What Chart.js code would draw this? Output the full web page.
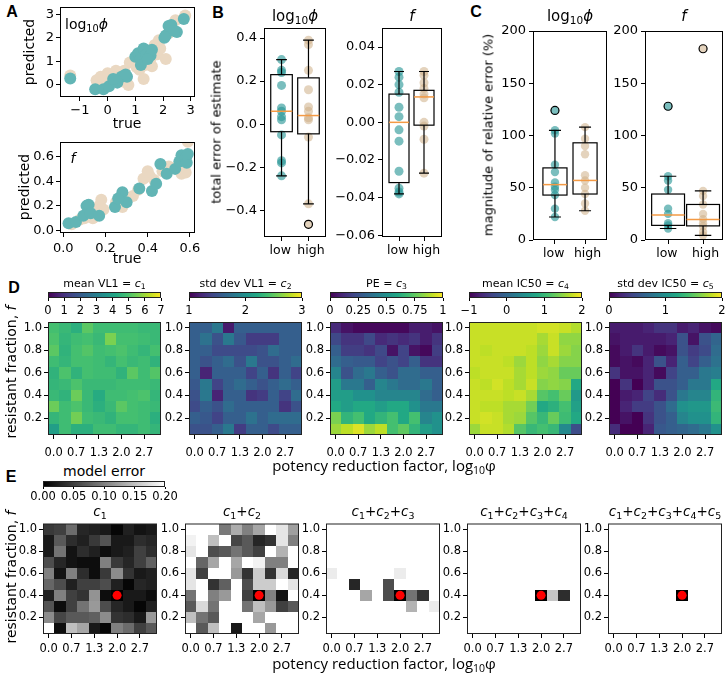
<!DOCTYPE html>
<html><head><meta charset="utf-8">
<script src="https://cdn.jsdelivr.net/npm/chart.js@4/dist/chart.umd.min.js"></script>
<style>
body{margin:0;background:#fff}
#fig{position:relative;width:727px;height:674px;overflow:hidden;background:#fff;font-family:'DejaVu Sans',sans-serif;color:#000}
canvas{position:absolute}
.t{position:absolute;white-space:nowrap;transform:translate(-50%,-50%);line-height:1}
.tl{transform:translate(0,-50%)}
.r{transform:translate(-50%,-50%) rotate(-90deg)}
.L{font-family:'Liberation Sans',Arial,sans-serif;font-weight:bold}
.os{font-family:'Open Sans',sans-serif}
sub{font-size:70%;vertical-align:-0.3em;line-height:0}
</style></head><body><div id="fig"></div>
<script>
// ================= DATA =================
// Panel A: [true, predicted]
const A_PHI_TEAL = [[-1.35,0.28],[-0.45,-0.18],[-0.15,-0.18],[0.05,-0.05],[0.35,0.1],[0.5,0.35],[0.7,0.35],[0.65,0.45],[1.0,1.2],[1.1,1.35],[1.2,1.1],[1.3,1.55],[1.4,1.3],[1.55,1.25],[1.6,1.5],[1.2,0.85],[2.05,2.0],[2.1,2.1],[2.2,2.5],[2.3,2.55],[2.5,2.25],[2.75,2.8],[0.2,0.25],[1.45,1.1],[2.4,2.3]];
const A_PHI_BEIGE = [[-1.35,0.4],[-0.4,0.2],[-0.25,0.35],[-0.05,0.1],[0.0,0.5],[0.15,0.3],[0.3,0.6],[0.4,0.35],[0.55,0.15],[0.75,0.0],[0.8,0.95],[0.95,1.0],[1.05,0.75],[1.15,0.65],[1.3,0.25],[1.35,0.85],[1.5,0.9],[1.55,1.1],[1.6,0.8],[1.7,1.7],[1.8,1.3],[1.85,1.9],[2.1,1.1],[2.2,2.2],[2.3,2.4],[2.45,2.75],[2.8,2.95],[1.0,1.05],[0.6,0.6],[1.9,1.55]];
const A_F_TEAL = [[0.025,0.06],[0.06,0.07],[0.095,0.12],[0.11,0.2],[0.12,0.21],[0.13,0.14],[0.17,0.12],[0.245,0.19],[0.28,0.31],[0.3,0.23],[0.36,0.34],[0.42,0.32],[0.44,0.38],[0.46,0.54],[0.49,0.46],[0.53,0.5],[0.55,0.56],[0.56,0.61],[0.58,0.59],[0.585,0.55],[0.59,0.62],[0.26,0.26]];
const A_F_BEIGE = [[0.04,0.05],[0.08,0.09],[0.1,0.1],[0.14,0.1],[0.17,0.2],[0.18,0.25],[0.19,0.17],[0.25,0.23],[0.28,0.19],[0.3,0.25],[0.355,0.33],[0.38,0.42],[0.4,0.48],[0.41,0.44],[0.47,0.48],[0.5,0.52],[0.545,0.52],[0.56,0.46],[0.58,0.6],[0.59,0.72],[0.58,0.47],[0.43,0.41],[0.33,0.28]];

// Panel B / C box plots: stats = [whiskerLow, Q1, median, Q3, whiskerHigh]
const CATEGORIES = ['low','high'];
const B_PHI_LOW = [0.30,0.25,0.24,0.18,0.075,0.06,0.035,0.02,-0.05,-0.17,-0.18,-0.24];
const B_PHI_HIGH = [0.39,0.37,0.25,0.16,0.08,0.06,0.03,0.02,-0.06,-0.37,-0.465];
const B_PHI_LOW_STATS = [-0.24,-0.035,0.06,0.23,0.30];
const B_PHI_HIGH_STATS = [-0.37,-0.045,0.04,0.215,0.39];
const B_PHI_LOW_FLIERS = [];
const B_PHI_HIGH_FLIERS = [-0.465];
const B_F_LOW = [0.027,0.024,0.02,0.016,0.008,0.003,-0.004,-0.01,-0.026,-0.035,-0.037,-0.038];
const B_F_HIGH = [0.027,0.025,0.021,0.018,0.015,0.013,0.0,-0.002,-0.009,-0.027];
const B_F_LOW_STATS = [-0.038,-0.032,0.0,0.015,0.027];
const B_F_HIGH_STATS = [-0.027,-0.0015,0.0135,0.017,0.027];
const C_PHI_LOW = [124,105,102,72,65,55,51,48,43,30,22];
const C_PHI_HIGH = [108,97,90,82,62,57,50,44,35,28];
const C_PHI_LOW_STATS = [22,43,53,69,105];
const C_PHI_HIGH_STATS = [28,44,57,93,108];
const C_PHI_LOW_FLIERS = [124];
const C_PHI_HIGH_FLIERS = [];
const C_F_LOW = [128,61,57,48,30,25,16,14,11];
const C_F_HIGH = [183,47,42,34,25,20,16,13,8,4.5];
const C_F_LOW_STATS = [11,14,24,44,61];
const C_F_HIGH_STATS = [4.5,13.5,19.5,34,47];
const C_F_LOW_FLIERS = [128];
const C_F_HIGH_FLIERS = [183];

// Heatmaps: columns = log10 phi, rows = resistant fraction (top row first)
const X_VALS = [0.0,0.333,0.667,1.0,1.333,1.667,2.0,2.333,2.667,3.0];
const Y_VALS = [1.0,0.9,0.8,0.7,0.6,0.5,0.4,0.3,0.2,0.1];
const HX_TICKS = [0.0,0.667,1.333,2.0,2.667];
const HX_LABELS = ['0.0','0.7','1.3','2.0','2.7'];
const HY_TICKS = [1.0,0.8,0.6,0.4,0.2];
const HY_LABELS = ['1.0','0.8','0.6','0.4','0.2'];
const BEST_FIT = [2.0, 0.4];

const MEAN_VL1 = [
[4.9,4.7,4.4,5.2,4.8,4.8,4.8,4.8,4.7,4.7],
[5.0,4.6,4.8,4.9,4.7,5.6,4.9,4.9,4.8,4.7],
[5.2,4.5,4.9,5.1,4.8,4.9,5.0,4.8,4.6,4.9],
[4.8,4.6,4.9,4.9,4.8,4.6,4.9,4.7,4.8,4.5],
[4.5,5.0,4.5,4.9,4.8,4.8,4.5,5.2,4.8,5.1],
[4.6,4.7,5.0,4.7,4.7,4.7,4.8,4.8,4.8,4.7],
[4.7,4.5,5.4,4.7,4.3,4.8,4.8,4.9,5.0,4.6],
[5.4,4.8,5.0,4.7,4.4,4.7,5.2,4.9,4.8,4.7],
[4.6,4.8,5.5,4.8,4.7,4.5,4.9,4.9,4.8,4.4],
[3.9,4.8,4.4,4.4,4.8,4.8,4.6,4.6,4.8,4.6]];
const STD_VL1 = [
[1.6,1.6,1.8,1.15,1.6,1.6,1.6,1.6,1.6,1.6],
[1.6,1.75,1.5,1.8,1.55,1.35,1.35,1.35,1.6,1.6],
[1.6,1.6,1.45,1.45,1.45,1.45,1.5,1.7,1.6,1.6],
[1.6,1.5,1.6,1.7,1.5,1.8,1.5,1.5,1.6,1.7],
[1.6,1.2,1.6,1.6,1.6,1.4,1.6,1.3,1.6,1.4],
[1.55,1.8,1.4,1.6,1.7,1.6,1.5,1.6,1.7,1.6],
[1.5,1.8,1.2,1.6,1.6,1.3,1.35,1.6,1.4,1.7],
[1.45,1.6,1.5,1.7,1.6,1.6,1.6,1.6,1.3,1.5],
[1.6,1.55,1.4,1.6,1.6,1.75,1.6,1.7,1.7,1.7],
[1.5,1.5,1.6,1.8,1.35,1.6,1.6,1.45,1.6,1.6]];
const PE = [
[0.12,0.05,0.02,0.02,0.02,0.02,0.02,0.08,0.08,0.05],
[0.22,0.15,0.15,0.22,0.12,0.15,0.12,0.15,0.08,0.15],
[0.3,0.18,0.18,0.15,0.22,0.05,0.2,0.05,0.02,0.18],
[0.35,0.3,0.28,0.28,0.2,0.25,0.2,0.3,0.15,0.15],
[0.45,0.25,0.35,0.4,0.3,0.25,0.35,0.35,0.3,0.3],
[0.55,0.4,0.4,0.3,0.45,0.4,0.35,0.35,0.4,0.3],
[0.55,0.55,0.5,0.5,0.45,0.45,0.45,0.45,0.35,0.3],
[0.6,0.55,0.6,0.6,0.55,0.6,0.6,0.5,0.4,0.4],
[0.8,0.65,0.7,0.6,0.65,0.7,0.6,0.7,0.45,0.5],
[0.85,0.9,0.95,0.85,0.9,0.7,0.75,0.65,0.55,0.5]];
const MEAN_IC50 = [
[1.75,1.75,1.75,1.75,1.75,1.75,1.8,1.8,1.75,1.65],
[1.75,1.75,1.75,1.75,1.75,1.75,1.6,1.75,1.5,1.5],
[1.75,1.7,1.75,1.75,1.75,1.7,1.55,1.75,1.55,1.45],
[1.75,1.75,1.75,1.7,1.55,1.7,1.5,1.6,1.45,1.45],
[1.7,1.75,1.75,1.75,1.6,1.7,1.55,1.5,1.3,1.3],
[1.75,1.7,1.8,1.7,1.6,1.75,1.45,1.5,1.45,0.8],
[1.75,1.75,1.75,1.7,1.75,1.6,1.2,1.1,1.3,0.6],
[1.75,1.7,1.7,1.6,1.6,1.35,0.8,0.9,1.1,0.7],
[1.75,1.8,1.75,1.6,1.55,1.2,1.0,1.3,1.05,0.8],
[1.55,1.75,1.75,1.65,1.2,1.0,1.1,1.0,0.4,-0.3]];
const STD_IC50 = [
[0.15,0.15,0.15,0.2,0.3,0.3,0.15,0.2,0.1,0.05],
[0.1,0.15,0.15,0.15,0.15,0.2,0.5,0.1,0.5,0.65],
[0.05,0.15,0.3,0.15,0.05,0.1,0.5,0.35,0.45,0.7],
[0.05,0.1,0.05,0.2,0.5,0.2,0.6,0.4,0.6,0.75],
[0.3,0.1,0.1,0.2,0.05,0.4,0.6,0.6,0.8,0.85],
[0.0,0.3,0.0,0.2,0.5,0.5,0.6,0.8,0.8,1.2],
[0.0,0.15,0.2,0.4,0.25,0.5,0.8,0.9,0.9,1.3],
[0.0,0.2,0.35,0.35,0.5,0.7,1.0,1.05,1.05,1.35],
[0.0,0.1,0.0,0.3,0.5,0.6,0.9,1.0,1.0,1.3],
[0.25,0.0,0.0,0.2,0.55,0.6,0.65,0.7,0.8,1.0]];

const ERR_C1 = [
[0.045,0.05,0.085,0.03,0.025,0.02,0.005,0.025,0.015,0.02],
[0.02,0.07,0.035,0.025,0.045,0.065,0.02,0.02,0.035,0.03],
[0.02,0.09,0.015,0.035,0.025,0.01,0.02,0.025,0.05,0.035],
[0.06,0.03,0.015,0.01,0.01,0.1,0.045,0.03,0.05,0.075],
[0.1,0.015,0.1,0.035,0.01,0.045,0.11,0.04,0.02,0.025],
[0.08,0.06,0.025,0.05,0.05,0.06,0.025,0.005,0.03,0.025],
[0.025,0.1,0.05,0.04,0.115,0.01,0.0,0.02,0.02,0.01],
[0.065,0.01,0.05,0.09,0.12,0.06,0.03,0.02,0.005,0.025],
[0.11,0.055,0.07,0.07,0.075,0.11,0.04,0.035,0.02,0.12],
[0.2,0.01,0.15,0.13,0.02,0.005,0.1,0.085,0.05,0.07]];
const ERR_C2 = [
[0.2,0.2,0.2,0.095,0.135,0.1,0.13,0.2,0.18,0.125],
[0.19,0.2,0.15,0.2,0.055,0.07,0.03,0.04,0.18,0.1],
[0.18,0.2,0.06,0.07,0.09,0.07,0.05,0.2,0.14,0.2],
[0.2,0.08,0.13,0.2,0.13,0.2,0.19,0.1,0.1,0.2],
[0.18,0.05,0.2,0.2,0.12,0.04,0.16,0.04,0.17,0.03],
[0.18,0.2,0.04,0.075,0.2,0.06,0.16,0.16,0.2,0.18],
[0.09,0.2,0.1,0.12,0.2,0.05,0.0,0.1,0.015,0.2],
[0.07,0.17,0.09,0.2,0.2,0.09,0.15,0.12,0.05,0.07],
[0.15,0.09,0.07,0.2,0.2,0.2,0.13,0.2,0.2,0.2],
[0.2,0.07,0.15,0.2,0.02,0.2,0.2,0.12,0.2,0.2]];
const ERR_C3 = [
[0.2,0.2,0.2,0.2,0.2,0.2,0.2,0.2,0.2,0.2],
[0.2,0.2,0.2,0.2,0.2,0.2,0.2,0.2,0.2,0.2],
[0.2,0.2,0.2,0.2,0.2,0.2,0.2,0.2,0.2,0.2],
[0.2,0.2,0.2,0.2,0.2,0.2,0.2,0.2,0.2,0.2],
[0.185,0.2,0.2,0.2,0.2,0.2,0.185,0.2,0.2,0.2],
[0.2,0.2,0.03,0.2,0.2,0.06,0.2,0.2,0.2,0.2],
[0.2,0.2,0.2,0.13,0.2,0.06,0.0,0.09,0.04,0.2],
[0.2,0.2,0.2,0.2,0.2,0.2,0.2,0.14,0.2,0.185],
[0.2,0.2,0.2,0.2,0.2,0.2,0.2,0.2,0.2,0.2],
[0.2,0.2,0.2,0.2,0.2,0.2,0.2,0.2,0.2,0.2]];
const ERR_C4 = [
[0.2,0.2,0.2,0.2,0.2,0.2,0.2,0.2,0.2,0.2],
[0.2,0.2,0.2,0.2,0.2,0.2,0.2,0.2,0.2,0.2],
[0.2,0.2,0.2,0.2,0.2,0.2,0.2,0.2,0.2,0.2],
[0.2,0.2,0.2,0.2,0.2,0.2,0.2,0.2,0.2,0.2],
[0.2,0.2,0.2,0.2,0.2,0.2,0.2,0.2,0.2,0.2],
[0.2,0.2,0.2,0.2,0.2,0.2,0.2,0.2,0.2,0.2],
[0.2,0.2,0.2,0.2,0.2,0.2,0.0,0.155,0.035,0.2],
[0.2,0.2,0.2,0.2,0.2,0.2,0.2,0.2,0.2,0.2],
[0.2,0.2,0.2,0.2,0.2,0.2,0.2,0.2,0.2,0.2],
[0.2,0.2,0.2,0.2,0.2,0.2,0.2,0.2,0.2,0.2]];
const ERR_C5 = [
[0.2,0.2,0.2,0.2,0.2,0.2,0.2,0.2,0.2,0.2],
[0.2,0.2,0.2,0.2,0.2,0.2,0.2,0.2,0.2,0.2],
[0.2,0.2,0.2,0.2,0.2,0.2,0.2,0.2,0.2,0.2],
[0.2,0.2,0.2,0.2,0.2,0.2,0.2,0.2,0.2,0.2],
[0.2,0.2,0.2,0.2,0.2,0.2,0.2,0.2,0.2,0.2],
[0.2,0.2,0.2,0.2,0.2,0.2,0.2,0.2,0.2,0.2],
[0.2,0.2,0.2,0.2,0.2,0.2,0.0,0.2,0.2,0.2],
[0.2,0.2,0.2,0.2,0.2,0.2,0.2,0.2,0.2,0.2],
[0.2,0.2,0.2,0.2,0.2,0.2,0.2,0.2,0.2,0.2],
[0.2,0.2,0.2,0.2,0.2,0.2,0.2,0.2,0.2,0.2]];

// colorbar ranges and ticks
const CB_VL1_TICKS = [0,1,2,3,4,5,6,7];
const CB_STDVL1_TICKS = [1,2,3];
const CB_PE_TICKS = [0,0.25,0.5,0.75,1];
const CB_PE_LABELS = ['0','0.25','0.5','0.75','1'];
const CB_IC50_TICKS = [-1,0,1,2];
const CB_IC50_LABELS = ['\u22121','0','1','2'];
const CB_STDIC50_TICKS = [0,1,2];
const CB_ERR_TICKS = [0,0.05,0.1,0.15,0.2];
const CB_ERR_LABELS = ['0.00','0.05','0.10','0.15','0.20'];

// ================= RENDERING =================
const FONT = "'DejaVu Sans', sans-serif";
Chart.defaults.font.family = FONT;
Chart.defaults.color = '#000';
const fig = document.getElementById('fig');
const TEAL = '#62b5b5', BEIGE = '#ead8c2';
const TEAL_A = 'rgba(40,150,150,0.62)', BEIGE_A = 'rgba(205,175,135,0.55)';
// small visual nudge of the category labels (thin spaces), as in the reference
const CAT_LABELS = ['low\u2009', '\u2009\u2009high'];

function text(html, x, y, size, cls, font) {
  const d = document.createElement('div');
  d.className = 't' + (cls ? ' ' + cls : '');
  d.style.left = x + 'px'; d.style.top = y + 'px'; d.style.fontSize = size + 'px';
  if (font) d.style.fontFamily = font;
  d.innerHTML = html; fig.appendChild(d);
}

const VIR = ['#440154','#482475','#414487','#355f8d','#2a788e','#21918c','#22a884','#44bf70','#7ad151','#bddf26','#fde725'].map(h => [1,3,5].map(i => parseInt(h.substr(i,2),16)));
function viridis(t) {
  t = Math.max(0, Math.min(1, t)); const s = t * 10; const i = Math.min(9, Math.floor(s)); const f = s - i;
  const c = VIR[i].map((v, k) => Math.round(v + (VIR[i+1][k] - v) * f));
  return `rgb(${c[0]},${c[1]},${c[2]})`;
}
function grays(t) { t = Math.max(0, Math.min(1, t)); const g = Math.round(255 * t); return `rgb(${g},${g},${g})`; }

const framePlugin = { id:'frame', afterDraw(chart, args, o) {
  const a = chart.chartArea, c = chart.ctx; c.save(); c.strokeStyle = o.color || '#000'; c.lineWidth = 1;
  c.strokeRect(a.left + 0.5, a.top + 0.5, a.right - a.left - 1, a.bottom - a.top - 1); c.restore(); } };

// cells are laid out on the scale: column j spans [min + j*w, min + (j+1)*w]
const heatPlugin = { id:'heat', beforeDatasetsDraw(chart, args, o) {
  const {ctx, scales:{x, y}} = chart; const ds = chart.data.datasets[0];
  const cw = (x.max - x.min) / o.nx, chh = (y.max - y.min) / o.ny;
  ctx.save();
  ds.data.forEach(p => {
    const x0 = Math.round(x.getPixelForValue(x.min + p.j * cw)), x1 = Math.round(x.getPixelForValue(x.min + (p.j + 1) * cw));
    const y0 = Math.round(y.getPixelForValue(y.max - p.i * chh)), y1 = Math.round(y.getPixelForValue(y.max - (p.i + 1) * chh));
    ctx.fillStyle = o.cmap((p.v - o.vmin) / (o.vmax - o.vmin));
    ctx.fillRect(x0, y0, x1 - x0, y1 - y0);
  });
  ctx.restore(); } };

const cbarPlugin = { id:'cbar', beforeDatasetsDraw(chart, args, o) {
  const {ctx, chartArea:a, scales:{x}} = chart;
  for (let px = a.left; px < a.right; px++) {
    const v = x.getValueForPixel(px + 0.5);
    ctx.fillStyle = o.cmap((v - o.vmin) / (o.vmax - o.vmin));
    ctx.fillRect(px, a.top, 1, a.bottom - a.top);
  } } };

const boxPlugin = { id:'boxes', afterDatasetsDraw(chart, args, o) {
  const {ctx, scales:{x, y}} = chart; const Y = v => y.getPixelForValue(v);
  ctx.save();
  chart.data.datasets.forEach(ds => {
    const [wl, q1, md, q3, wh] = ds.stats;
    const xc = x.getPixelForValue(ds.pos), hw = x.getPixelForValue(ds.pos + ds.bw/2) - xc;
    ctx.strokeStyle = '#000'; ctx.lineWidth = 1.2;
    ctx.strokeRect(xc - hw, Y(q3), 2*hw, Y(q1) - Y(q3));
    ctx.beginPath();
    ctx.moveTo(xc, Y(q3)); ctx.lineTo(xc, Y(wh)); ctx.moveTo(xc, Y(q1)); ctx.lineTo(xc, Y(wl));
    ctx.moveTo(xc - hw/2, Y(wh)); ctx.lineTo(xc + hw/2, Y(wh));
    ctx.moveTo(xc - hw/2, Y(wl)); ctx.lineTo(xc + hw/2, Y(wl));
    ctx.stroke();
    ctx.strokeStyle = '#f39a45'; ctx.lineWidth = 1.5;
    ctx.beginPath(); ctx.moveTo(xc - hw, Y(md)); ctx.lineTo(xc + hw, Y(md)); ctx.stroke();
    ctx.strokeStyle = '#000'; ctx.lineWidth = 1.2;
    ds.fliers.forEach(f => { ctx.beginPath(); ctx.arc(xc, Y(f), 4, 0, 2*Math.PI); ctx.stroke(); });
  });
  ctx.restore(); } };

function axis(pos, min, max, ticks, labels, fit, o) {
  o = o || {};
  const horiz = pos === 'bottom';
  return {
    type:'linear', position:pos, min, max,
    afterBuildTicks: s => { s.ticks = ticks.map(v => ({value:v})); },
    afterFit: s => { if (horiz) s.height = fit; else s.width = fit; s.paddingLeft = s.paddingRight = s.paddingTop = s.paddingBottom = 0; },
    ticks:{ autoSkip:false, maxRotation:0, minRotation:0, padding:(o.pad !== undefined ? o.pad : 3), font:{size:o.size || 13, family:FONT}, color:'#000', callback:(v, i) => labels[i] },
    grid:{ display:true, drawOnChartArea:false, drawTicks:true, tickLength:(o.tl !== undefined ? o.tl : 4), tickWidth:1, tickColor:'#000', color:'#000', lineWidth:1 },
    border:{ display:false }
  };
}

function makeChart(L, T, W, H, pad, datasets, scales, pluginOpts, plugins, noY) {
  const cv = document.createElement('canvas');
  const cw = W + pad.l + pad.r, ch = H + pad.t + pad.b;
  cv.width = cw; cv.height = ch;
  Object.assign(cv.style, {left:(L - pad.l) + 'px', top:(T - pad.t) + 'px', width:cw + 'px', height:ch + 'px'});
  fig.appendChild(cv);
  return new Chart(cv, {
    type:'scatter', data:{datasets},
    options:{
      responsive:false, maintainAspectRatio:false, animation:false, devicePixelRatio:1, events:[],
      layout:{padding:{left:noY ? pad.l : 0, top:pad.t, right:pad.r, bottom:0}},
      scales,
      plugins:Object.assign({legend:{display:false}, tooltip:{enabled:false}, title:{display:false}}, pluginOpts)
    },
    plugins
  });
}

// ---- Panel A ----
function scatterPanel(L, T, W, H, xr, yr, xt, xl, yt, yl, teal, beige, xpad) {
  const pts = a => a.map(p => ({x:p[0], y:p[1]}));
  makeChart(L, T, W, H, {l:34, b:24, t:6, r:12}, [
    {data:pts(teal), backgroundColor:TEAL, borderWidth:0, pointRadius:6},
    {data:pts(beige), backgroundColor:BEIGE, borderWidth:0, pointRadius:6}],
    {x:axis('bottom', xr[0], xr[1], xt, xl, 24, {pad:xpad}), y:axis('left', yr[0], yr[1], yt, yl, 34, {pad:2})},
    {frame:{}}, [framePlugin]);
}
scatterPanel(60, 7, 135, 90, [-1.72, 3.155], [-0.51, 3.31], [-1,0,1,2,3], ['\u22121','0','1','2','3'], [0,1,2,3], ['0','1','2','3'], A_PHI_TEAL, A_PHI_BEIGE, 2);
scatterPanel(60, 142, 135, 91, [-0.0156, 0.624], [-0.02, 0.718], [0,0.2,0.4,0.6], ['0.0','0.2','0.4','0.6'], [0,0.2,0.4,0.6], ['0.0','0.2','0.4','0.6'], A_F_TEAL, A_F_BEIGE, 4);

// ---- Panels B, C ----
function boxPanel(L, T, W, H, padL, xr, yr, yt, yl, groups) {
  const datasets = groups.map(g => ({data:g.pts.map(v => ({x:g.pos, y:v})), backgroundColor:g.color, borderWidth:0, pointRadius:g.r,
    stats:g.stats, fliers:g.fliers, pos:g.pos, bw:g.bw}));
  makeChart(L, T, W, H, {l:padL, b:24, t:6, r:8}, datasets,
    {x:axis('bottom', xr[0], xr[1], [1,2], CAT_LABELS, 24, {pad:2, size:12.5}), y:axis('left', yr[0], yr[1], yt, yl, padL, {pad:3})},
    {frame:{}}, [boxPlugin, framePlugin]);
}
boxPanel(264, 28, 62, 209, 45, [0.35, 2.65], [-0.524, 0.4466], [-0.4,-0.2,0,0.2,0.4], ['\u22120.4','\u22120.2','0.0','0.2','0.4'], [
  {pos:1, bw:0.8, r:4.5, color:TEAL_A, pts:B_PHI_LOW, stats:B_PHI_LOW_STATS, fliers:B_PHI_LOW_FLIERS},
  {pos:2, bw:0.8, r:4.5, color:BEIGE_A, pts:B_PHI_HIGH, stats:B_PHI_HIGH_STATS, fliers:B_PHI_HIGH_FLIERS}]);
boxPanel(382, 28, 60, 209, 52, [0.32, 2.72], [-0.0609, 0.0501], [-0.06,-0.04,-0.02,0,0.02,0.04], ['\u22120.06','\u22120.04','\u22120.02','0.00','0.02','0.04'], [
  {pos:1, bw:0.8, r:4.5, color:TEAL_A, pts:B_F_LOW, stats:B_F_LOW_STATS, fliers:[]},
  {pos:2, bw:0.8, r:4.5, color:BEIGE_A, pts:B_F_HIGH, stats:B_F_HIGH_STATS, fliers:[]}]);
boxPanel(533, 31, 74, 209, 38, [0.27, 2.73], [0, 200], [0,50,100,150,200], ['0','50','100','150','200'], [
  {pos:1, bw:0.8, r:4.2, color:TEAL_A, pts:C_PHI_LOW, stats:C_PHI_LOW_STATS, fliers:C_PHI_LOW_FLIERS},
  {pos:2, bw:0.8, r:4.2, color:BEIGE_A, pts:C_PHI_HIGH, stats:C_PHI_HIGH_STATS, fliers:C_PHI_HIGH_FLIERS}]);
boxPanel(645, 31, 78, 209, 38, [0.34, 2.57], [0, 200], [0,50,100,150,200], ['0','50','100','150','200'], [
  {pos:1, bw:0.94, r:4.2, color:TEAL_A, pts:C_F_LOW, stats:C_F_LOW_STATS, fliers:C_F_LOW_FLIERS},
  {pos:2, bw:0.94, r:4.2, color:BEIGE_A, pts:C_F_HIGH, stats:C_F_HIGH_STATS, fliers:C_F_HIGH_FLIERS}]);

// ---- Heatmaps ----
const DX = X_VALS[1] - X_VALS[0], DY = Y_VALS[0] - Y_VALS[1];
function heatPanel(L, T, W, H, grid, cmap, vmin, vmax, dot, xpad) {
  const data = [];
  grid.forEach((row, i) => row.forEach((v, j) => data.push({x:X_VALS[j], y:Y_VALS[i], v, i, j})));
  const ds = [{data, pointRadius:0, borderWidth:0}];
  if (dot) ds.push({data:[{x:BEST_FIT[0], y:BEST_FIT[1]}], backgroundColor:'#ff0000', borderWidth:0, pointRadius:4.5});
  makeChart(L, T, W, H, {l:30, b:24, t:2, r:12}, ds,
    {x:axis('bottom', X_VALS[0] - DX/2, X_VALS[9] + DX/2, HX_TICKS, HX_LABELS, 24, {size:11.5, pad:xpad}),
     y:axis('left', Y_VALS[9] - DY/2, Y_VALS[0] + DY/2, HY_TICKS, HY_LABELS, 30, {size:11.5, pad:2})},
    {heat:{cmap, vmin, vmax, nx:X_VALS.length, ny:Y_VALS.length}, frame:{color:'#222'}}, [heatPlugin, framePlugin]);
}
function colorbar(L, T, W, H, cmap, vmin, vmax, ticks, labels, tl, pad) {
  makeChart(L, T, W, H, {l:14, b:18, t:1, r:14}, [{data:[]}],
    {x:axis('bottom', vmin, vmax, ticks, labels, 18, {size:11.5, tl, pad}), y:{display:false, min:0, max:1, afterFit:s => { s.width = 0; }}},
    {cbar:{cmap, vmin, vmax}, frame:{color:'#222'}}, [cbarPlugin, framePlugin], true);
}

const DL = [48, 189, 330, 469, 609];
const DGRIDS = [[MEAN_VL1,0,7,CB_VL1_TICKS,CB_VL1_TICKS.map(String)],[STD_VL1,1,3,CB_STDVL1_TICKS,CB_STDVL1_TICKS.map(String)],[PE,0,1,CB_PE_TICKS,CB_PE_LABELS],[MEAN_IC50,-1,2,CB_IC50_TICKS,CB_IC50_LABELS],[STD_IC50,0,2,CB_STDIC50_TICKS,CB_STDIC50_TICKS.map(String)]];
DGRIDS.forEach((g, k) => {
  heatPanel(DL[k], 322, 113, 113, g[0], viridis, g[1], g[2], false, 7);
  colorbar(DL[k], 292, 113, 6, viridis, g[1], g[2], g[3], g[4], 3, 3);
});
const EL = [43, 185, 326, 467, 608];
[ERR_C1, ERR_C2, ERR_C3, ERR_C4, ERR_C5].forEach((g, k) => heatPanel(EL[k], 521, 114, 113, g, grays, 0, 0.2, true, 4));
colorbar(43, 481, 122, 6, grays, 0, 0.2, CB_ERR_TICKS, CB_ERR_LABELS, 2, 1);

// ---- Text ----
text('A', 12, 12, 16, 'L'); text('B', 218, 13, 16, 'L'); text('C', 476, 12, 16, 'L');
text('D', 14, 288, 16, 'L'); text('E', 11, 477, 16, 'L');
const LOGPHI = 'log<sub>10</sub><i>ϕ</i>';
text(LOGPHI, 65, 24, 14, 'tl');
text('<i>f</i>', 73, 158, 14);
text('predicted', 29, 52, 14, 'r'); text('predicted', 24, 187, 14, 'r');
text('true', 127, 123, 14); text('true', 127, 258, 14);
text(LOGPHI, 295, 16, 15); text('<i>f</i>', 412, 16, 15);
text(LOGPHI, 570, 16, 15); text('<i>f</i>', 684, 16, 15);
text('total error of estimate', 216, 132, 13, 'r');
text('magnitude of relative error (%)', 488, 135, 13, 'r');
const DT = ['mean VL1 = <i>c</i><sub>1</sub>', 'std dev VL1 = <i>c</i><sub>2</sub>', 'PE = <i>c</i><sub>3</sub>', 'mean IC50 = <i>c</i><sub>4</sub>', 'std dev IC50 = <i>c</i><sub>5</sub>'];
DT.forEach((s, k) => text(s, DL[k] + 56.5, 283, 11));
const ET = ['<i>c</i><sub>1</sub>', '<i>c</i><sub>1</sub>+<i>c</i><sub>2</sub>', '<i>c</i><sub>1</sub>+<i>c</i><sub>2</sub>+<i>c</i><sub>3</sub>', '<i>c</i><sub>1</sub>+<i>c</i><sub>2</sub>+<i>c</i><sub>3</sub>+<i>c</i><sub>4</sub>', '<i>c</i><sub>1</sub>+<i>c</i><sub>2</sub>+<i>c</i><sub>3</sub>+<i>c</i><sub>4</sub>+<i>c</i><sub>5</sub>'];
ET.forEach((s, k) => text(s, EL[k] + 57, 512, 13.5));
text('model error', 104, 471, 14);
text('resistant fraction, <i>f</i>', 11, 372, 14, 'r');
text('resistant fraction, <i>f</i>', 11, 577, 14, 'r');
text('potency reduction factor, log<sub>10</sub>φ', 384, 465, 15, 'os');
text('potency reduction factor, log<sub>10</sub>φ', 384, 663, 15, 'os');
</script></body></html>
